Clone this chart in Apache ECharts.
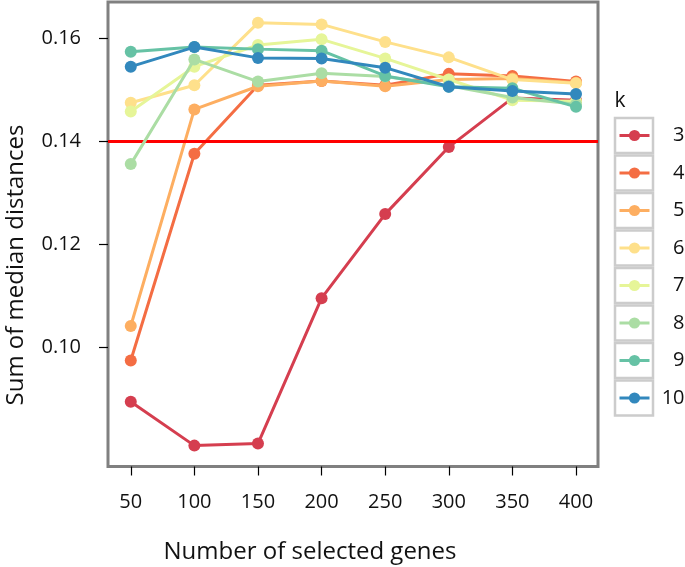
<!DOCTYPE html>
<html>
<head>
<meta charset="utf-8">
<script src="https://cdn.jsdelivr.net/npm/echarts@6/dist/echarts.min.js"></script>
<style>html,body{margin:0;padding:0;background:#fff}#c{width:685px;height:567px}</style>
</head>
<body>
<div id="c"></div>
<script>
var genes = [50, 100, 150, 200, 250, 300, 350, 400];
var kLabels = ['3', '4', '5', '6', '7', '8', '9', '10'];
var k3  = [0.0895, 0.0810, 0.0814, 0.1096, 0.1259, 0.1389, 0.1484, 0.1480];
var k4  = [0.0975, 0.1376, 0.1509, 0.1517, 0.1509, 0.1531, 0.1527, 0.1516];
var k5  = [0.1042, 0.1462, 0.1507, 0.1517, 0.1507, 0.1520, 0.1522, 0.1514];
var k6  = [0.1475, 0.1509, 0.1630, 0.1627, 0.1593, 0.1563, 0.1520, 0.1513];
var k7  = [0.1458, 0.1545, 0.1587, 0.1598, 0.1561, 0.1520, 0.1480, 0.1478];
var k8  = [0.1356, 0.1559, 0.1516, 0.1532, 0.1526, 0.1508, 0.1485, 0.1472];
var k9  = [0.1574, 0.1583, 0.1579, 0.1576, 0.1527, 0.1506, 0.1503, 0.1467];
var k10 = [0.1545, 0.1583, 0.1562, 0.1561, 0.1543, 0.1506, 0.1498, 0.1492];
var yTicks = [0.10, 0.12, 0.14, 0.16];
var threshold = 0.14;

var seriesValues = [k3, k4, k5, k6, k7, k8, k9, k10];
var colors = ['#D53E4F', '#F46D43', '#FDAE61', '#FEE08B', '#E6F598', '#ABDDA4', '#66C2A5', '#3288BD'];
var FONT = 'Open Sans';

var series = seriesValues.map(function (vals, i) {
  var s = {
    name: kLabels[i],
    type: 'line',
    data: genes.map(function (g, j) { return [g, vals[j]]; }),
    symbol: 'circle',
    symbolSize: 12,
    color: colors[i],
    lineStyle: { width: 3, color: colors[i] },
    itemStyle: { color: colors[i] },
    z: 2 + i,
    animation: false
  };
  if (i === seriesValues.length - 1) {
    s.markLine = {
      silent: true,
      symbol: 'none',
      label: { show: false },
      lineStyle: { color: '#FF0000', width: 3, type: 'solid' },
      data: [{ yAxis: threshold }],
      animation: false
    };
  }
  return s;
});

var pitch = 37.5, rowH = 20, iconH = 14;
var keyBoxes = kLabels.map(function (k, i) {
  return {
    type: 'rect',
    shape: { x: 615, y: 118 + pitch * i, width: 38, height: 35 },
    style: { fill: 'none', stroke: '#cccccc', lineWidth: 2.5 },
    silent: true
  };
});

var chart = echarts.init(document.getElementById('c'), null, { renderer: 'canvas' });
chart.setOption({
  backgroundColor: '#ffffff',
  animation: false,
  grid: {
    left: 108, right: 87, top: 2, bottom: 100.5,
    show: true, borderColor: '#808080', borderWidth: 3, backgroundColor: 'transparent'
  },
  xAxis: {
    type: 'value', min: 32.1, max: 417.3,
    splitLine: { show: false },
    axisLine: { show: false },
    axisTick: { show: true, length: 9, customValues: genes, lineStyle: { color: '#000', width: 1.2 } },
    axisLabel: { customValues: genes, margin: 26, fontFamily: FONT, fontSize: 20, color: '#111' }
  },
  yAxis: {
    type: 'value', min: 0.07695, max: 0.16704,
    splitLine: { show: false },
    axisLine: { show: false },
    axisTick: { show: true, length: 9, customValues: yTicks, lineStyle: { color: '#000', width: 1.2 } },
    axisLabel: {
      customValues: yTicks, margin: 27, fontFamily: FONT, fontSize: 20, color: '#111',
      formatter: function (v) { return v.toFixed(2); }
    }
  },
  legend: {
    orient: 'vertical',
    left: 613, top: 135.5 - rowH / 2 - 5,
    padding: 5,
    itemWidth: 30, itemHeight: iconH, itemGap: pitch - rowH,
    data: kLabels,
    lineStyle: { width: 3 },
    formatter: '{r|{name}}',
    textStyle: {
      fontFamily: FONT, fontSize: 20, color: '#111', lineHeight: rowH,
      rich: { r: { width: 30, height: rowH, align: 'right', fontFamily: FONT, fontSize: 20, color: '#111', lineHeight: rowH } }
    },
    selectedMode: false
  },
  graphic: keyBoxes.concat([
    {
      type: 'text', x: 620, y: 101,
      style: { text: 'k', font: '21px "Open Sans"', fill: '#111', align: 'center', verticalAlign: 'middle' }
    },
    {
      type: 'text', x: 310, y: 552,
      style: { text: 'Number of selected genes', font: '24px "Open Sans"', fill: '#111', align: 'center', verticalAlign: 'middle' }
    },
    {
      type: 'text', x: 16, y: 265, rotation: Math.PI / 2,
      style: { text: 'Sum of median distances', font: '24px "Open Sans"', fill: '#111', align: 'center', verticalAlign: 'middle' }
    }
  ]),
  series: series
});
</script>
</body>
</html>
